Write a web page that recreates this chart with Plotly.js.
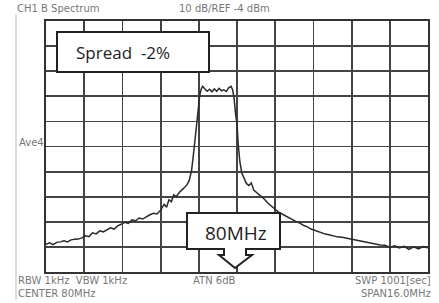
<!DOCTYPE html>
<html>
<head>
<meta charset="utf-8">
<script src="https://cdn.plot.ly/plotly-3.0.1.min.js"></script>
<style>
html,body{margin:0;padding:0;background:#fff;}
#chart{width:439px;height:303px;}
</style>
</head>
<body>
<div id="chart"></div>
<script>
// Frequency (MHz) and level (dBm)
const freqMHz = [
  72.00,72.15,72.30,72.45,72.60,72.75,72.90,73.05,73.20,73.35,73.50,73.65,73.80,73.95,
  74.10,74.25,74.40,74.55,74.70,74.85,75.00,75.15,75.30,75.45,75.60,75.75,75.90,76.05,
  76.20,76.35,76.50,76.65,76.80,76.95,77.05,77.15,77.25,77.35,77.45,77.60,77.75,77.90,
  78.00,78.10,78.20,78.28,78.36,78.44,78.50,78.56,78.65,78.75,78.85,78.95,79.05,79.15,
  79.25,79.35,79.45,79.55,79.65,79.75,79.82,79.88,79.94,80.00,80.05,80.12,80.20,80.30,
  80.40,80.50,80.60,80.70,80.85,81.00,81.15,81.30,81.45,81.60,81.75,81.90,82.05,82.20,
  82.35,82.50,82.65,82.80,82.95,83.10,83.25,83.40,83.55,83.70,83.85,84.00,84.20,84.40,
  84.60,84.80,85.00,85.20,85.40,85.60,85.80,86.00,86.20,86.40,86.60,86.80,87.00,87.20,
  87.40,87.60,87.80,88.00
];
const levelDbm = [
  -93.0,-92.4,-93.1,-92.2,-92.0,-91.6,-92.0,-91.2,-91.0,-90.9,-90.4,-89.6,-89.9,-88.4,
  -88.8,-87.6,-88.0,-87.1,-86.4,-86.9,-85.6,-85.0,-84.2,-84.6,-83.2,-83.6,-82.5,-82.9,
  -81.9,-81.2,-80.6,-80.9,-79.4,-77.0,-78.2,-75.2,-76.0,-73.2,-74.0,-72.1,-70.8,-69.3,
  -67.5,-63.4,-55.0,-48.0,-38.3,-33.5,-31.2,-30.0,-31.0,-32.0,-31.2,-32.2,-31.0,-32.0,
  -30.8,-31.8,-31.4,-32.1,-30.6,-30.0,-31.5,-35.0,-41.0,-45.0,-53.0,-60.0,-64.6,-66.5,
  -68.8,-69.5,-68.5,-71.4,-72.5,-73.6,-75.0,-76.6,-78.0,-79.0,-80.2,-81.0,-81.8,-82.4,
  -83.4,-84.0,-84.6,-85.5,-86.0,-86.9,-87.4,-88.0,-88.3,-88.9,-89.2,-89.6,-90.0,-90.2,
  -90.6,-91.0,-91.4,-91.8,-92.2,-92.4,-92.9,-93.2,-93.3,-94.2,-93.6,-94.4,-93.8,-95.0,
  -94.0,-94.8,-93.9,-94.3
];
const headerLeft = "CH1 B Spectrum";
const headerMid = "10 dB/REF -4 dBm";
const sideLabel = "Ave4";
const footLeft1 = "RBW 1kHz  VBW 1kHz";
const footLeft2 = "CENTER 80MHz";
const footMid = "ATN 6dB";
const footRight1 = "SWP 1001[sec]";
const footRight2 = "SPAN16.0MHz";
const spreadLabel = "Spread  -2%";
const centerLabel = "80MHz";
const refLevel = -4, dbPerDiv = 10, centerMHz = 80, spanMHz = 16;

// layout geometry (pixels)
const L = 46, R = 428, T = 21, B = 272;
const W = 439, H = 303;
const px = x => (x - L) / (R - L);
const py = y => (B - y) / (B - T);

const small = {family: "DejaVu Sans, Liberation Sans, sans-serif", size: 10, color: "#777"};
const big = {family: "Open Sans, Liberation Sans, sans-serif", size: 17, color: "#222"};

function ann(text, x, y, xanchor, font) {
  return {text: text, xref: "paper", yref: "paper", x: px(x), y: py(y),
          xanchor: xanchor, yanchor: "middle", showarrow: false, font: font};
}

const arrowPts = [[224,249],[224,255],[219,255],[235,268],[252,255],[246,255],[246,249]];
const arrowPath = "M" + arrowPts.map(p => px(p[0]).toFixed(4) + "," + py(p[1]).toFixed(4)).join(" L") + " Z";

const layout = {
  width: W, height: H,
  margin: {l: L, r: W - R, t: T, b: H - B, pad: 0},
  paper_bgcolor: "#fff", plot_bgcolor: "#fff",
  showlegend: false,
  xaxis: {range: [centerMHz - spanMHz/2, centerMHz + spanMHz/2], tick0: centerMHz - spanMHz/2, dtick: spanMHz/10,
          showticklabels: false, ticks: "", showgrid: true, gridcolor: "#444", gridwidth: 1.8,
          zeroline: false, showline: true, mirror: true, linecolor: "#333", linewidth: 2, fixedrange: true},
  yaxis: {range: [refLevel - 10*dbPerDiv, refLevel], tick0: refLevel, dtick: dbPerDiv,
          showticklabels: false, ticks: "", showgrid: true, gridcolor: "#444", gridwidth: 1.8,
          zeroline: false, showline: true, mirror: true, linecolor: "#333", linewidth: 2, fixedrange: true},
  shapes: [
    {type: "line", xref: "paper", yref: "paper", x0: px(16), x1: px(16), y0: py(14), y1: py(300),
     line: {color: "#bbb", width: 1}},
    {type: "rect", xref: "paper", yref: "paper", x0: px(57), x1: px(209), y0: py(72), y1: py(32),
     fillcolor: "#fff", line: {color: "#222", width: 2}, layer: "above"},
    {type: "path", xref: "paper", yref: "paper", path: arrowPath,
     fillcolor: "#fff", line: {color: "#222", width: 2}, layer: "above"},
    {type: "rect", xref: "paper", yref: "paper", x0: px(187), x1: px(280), y0: py(249), y1: py(213),
     fillcolor: "#fff", line: {color: "#222", width: 2}, layer: "above"},
    {type: "line", xref: "paper", yref: "paper", x0: px(225), x1: px(245), y0: py(249), y1: py(249),
     line: {color: "#fff", width: 3}, layer: "above"}
  ],
  annotations: [
    ann(headerLeft, 15, 8, "left", small),
    ann(headerMid, 224, 8, "center", small),
    ann(sideLabel, 17, 142, "left", small),
    ann(footLeft1, 16, 280, "left", small),
    ann(footLeft2, 16, 293, "left", small),
    ann(footMid, 214, 280, "center", small),
    ann(footRight1, 433, 280, "right", small),
    ann(footRight2, 433, 293, "right", small),
    ann(spreadLabel, 74, 52, "left", big),
    ann(centerLabel, 236, 233, "center", Object.assign({}, big, {size: 19}))
  ]
};

Plotly.newPlot("chart", [{
  x: freqMHz, y: levelDbm, type: "scatter", mode: "lines",
  line: {color: "#2a2a2a", width: 1.5}, hoverinfo: "skip"
}], layout, {staticPlot: true, displayModeBar: false});
</script>
</body>
</html>
